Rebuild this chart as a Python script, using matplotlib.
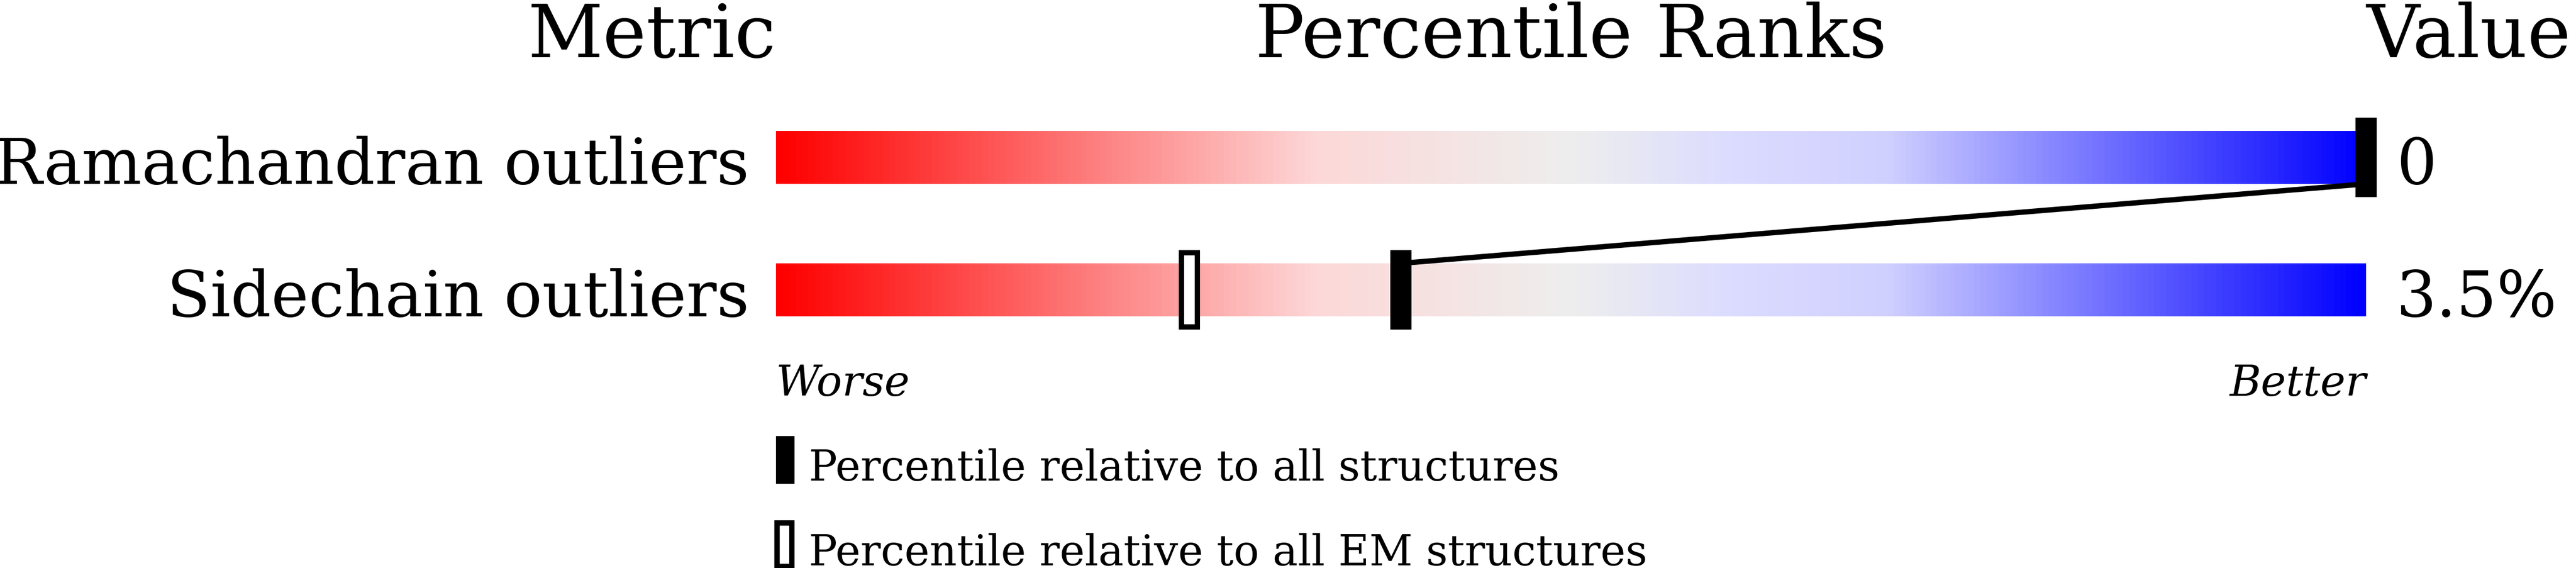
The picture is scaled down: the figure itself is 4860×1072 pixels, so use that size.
import numpy as np
import matplotlib
matplotlib.use("Agg")
import matplotlib.pyplot as plt
from matplotlib.colors import LinearSegmentedColormap

# percentile slider data
metrics = ["Ramachandran outliers", "Sidechain outliers"]
values = ["0", "3.5%"]
pct_all = [100.0, 39.3]      # percentile relative to all structures
pct_em = [None, 26.0]        # percentile relative to all EM structures
legend_labels = ["Percentile relative to all structures",
                 "Percentile relative to all EM structures"]

plt.rcParams["font.family"] = "DejaVu Serif"

W, H, DPI = 4860, 1072, 100
fig = plt.figure(figsize=(W / DPI, H / DPI), dpi=DPI)
fig.patch.set_facecolor("white")

# axes spans the slider width; x is the percentile, y is the row
bar_left, bar_w = 1464, 3000
ax = fig.add_axes([bar_left / W, 0, bar_w / W, 1])
ax.set_xlim(0, 100)
ax.set_ylim(3.1, -1.188)
ax.axis("off")

cmap = LinearSegmentedColormap.from_list(
    "slider",
    [(0.0, "#ff0000"), (0.34, "#fdd8d8"), (0.5, "#eeeeee"),
     (0.6, "#dcdcff"), (0.7, "#d0d0ff"), (1.0, "#0000ff")])
grad = np.linspace(0, 1, 600).reshape(1, -1)

bar_h = 0.4
mark_h = 0.6
mark_w = 1.33
for row, name in enumerate(metrics):
    ax.imshow(grad, cmap=cmap, aspect="auto", interpolation="bilinear",
              extent=(0, 100, row + bar_h / 2, row - bar_h / 2), zorder=1)
    ax.text(-1.7, row + bar_h / 2, name, ha="right", va="baseline",
            fontsize=86, clip_on=False)
    ax.text(101.9, row + bar_h / 2, values[row], ha="left", va="baseline",
            fontsize=86, clip_on=False)

# connecting line between the 'all structures' markers
ax.plot([pct_all[0], pct_all[1]], [0 + bar_h / 2, 1 - bar_h / 2],
        color="black", lw=7.2, solid_capstyle="butt", zorder=2)

rows = np.arange(len(metrics))
ax.bar(pct_all, mark_h, width=mark_w, bottom=rows - mark_h / 2,
       color="black", zorder=4, clip_on=False)
for row, p in enumerate(pct_em):
    if p is None:
        continue
    ax.bar(p, mark_h - 0.04, width=1.0, bottom=row - (mark_h - 0.04) / 2,
           facecolor="white", edgecolor="black", linewidth=7.2, zorder=3)

# headers
ax.text(0, -0.755, "Metric", ha="right", va="baseline", fontsize=100, clip_on=False)
ax.text(50, -0.755, "Percentile Ranks", ha="center", va="baseline", fontsize=100)
ax.text(100, -0.755, "Value", ha="left", va="baseline", fontsize=100, clip_on=False)

ax.text(0, 1.8, "Worse", ha="left", va="baseline", fontsize=58, style="italic")
ax.text(100, 1.8, "Better", ha="right", va="baseline", fontsize=58, style="italic")

# legend
leg_rows = [2.284, 2.924]
ax.bar(0.53, 0.36, width=1.3, bottom=leg_rows[0] - 0.18, color="black")
ax.bar(0.53, 0.33, width=0.95, bottom=leg_rows[1] - 0.165,
       facecolor="white", edgecolor="black", linewidth=7.2, clip_on=False)
for r, lab in zip(leg_rows, legend_labels):
    ax.text(2.07, r + 0.156, lab, ha="left", va="baseline", fontsize=57.5)

fig.savefig("out.png", dpi=DPI)
